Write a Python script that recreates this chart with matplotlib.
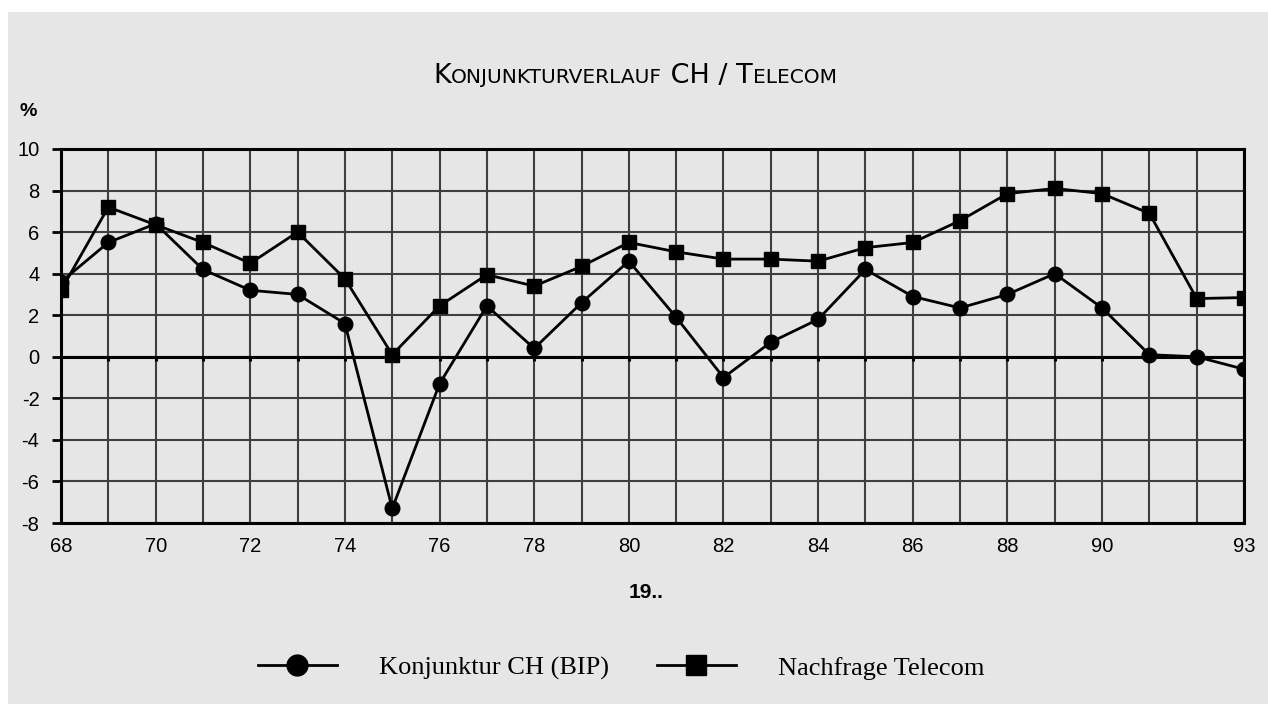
"""Konjunkturverlauf CH / Telecom, 1968-1993."""

import matplotlib

matplotlib.use("Agg")
import matplotlib.pyplot as plt
from matplotlib.lines import Line2D
from matplotlib.offsetbox import AnnotationBbox, HPacker, TextArea
from matplotlib.patches import Rectangle

# data
years = list(range(68, 94))
bip = [3.6, 5.5, 6.4, 4.2, 3.2, 3.0, 1.6, -7.3, -1.3, 2.45, 0.4, 2.6, 4.6,
       1.9, -1.0, 0.7, 1.8, 4.2, 2.9, 2.35, 3.0, 4.0, 2.35, 0.1, 0.0, -0.6]
telecom = [3.2, 7.2, 6.35, 5.5, 4.5, 6.0, 3.75, 0.1, 2.45, 3.95, 3.4, 4.35, 5.5,
           5.05, 4.7, 4.7, 4.6, 5.25, 5.5, 6.55, 7.85, 8.1, 7.85, 6.9, 2.8, 2.85]
x_label_years = [68, 70, 72, 74, 76, 78, 80, 82, 84, 86, 88, 90, 93]
y_ticks = [-8, -6, -4, -2, 0, 2, 4, 6, 8, 10]
series_names = ["Konjunktur CH (BIP)", "Nachfrage Telecom"]

BG = "#e6e6e6"
GRID = "#3f3f3f"
SANS = ["Liberation Sans", "DejaVu Sans"]

fig = plt.figure(figsize=(12.68, 7.04), dpi=100, facecolor="white")
fig.patches.append(Rectangle((8 / 1268, 0), 1 - 8 / 1268, 1 - 12 / 704,
                             transform=fig.transFigure, facecolor=BG,
                             edgecolor="none", zorder=-10))

ax = fig.add_axes([0.0481, 0.2571, 0.9330, 0.5313])
ax.set_facecolor(BG)
ax.set_xlim(68, 93)
ax.set_ylim(-8, 10)

# grid every year / every 2 %
for yr in years:
    ax.axvline(yr, color=GRID, lw=1.5, zorder=1)
for v in y_ticks:
    ax.axhline(v, color=GRID, lw=1.5, zorder=1)
ax.axhline(0, color="black", lw=2.2, zorder=2)
ax.vlines(years, -0.22, 0, color="black", lw=2.2, zorder=2)

for s in ax.spines.values():
    s.set_linewidth(2.2)
    s.set_color("black")
    s.set_zorder(3)

ax.plot(years, bip, color="black", lw=2.0, marker="o", ms=10.5, zorder=5)
ax.plot(years, telecom, color="black", lw=2.0, marker="s", ms=10.5, zorder=5)

ax.set_xticks(x_label_years)
ax.set_xticklabels([str(y) for y in x_label_years], family=SANS, fontsize=14.5)
ax.tick_params(axis="x", length=0, pad=10)
ax.set_yticks(y_ticks)
ax.set_yticklabels([str(v) for v in y_ticks], family=SANS, fontsize=14.5)
ax.tick_params(axis="y", length=6.5, width=2, pad=9, color="black")

fig.text(646 / 1268, 1 - 593 / 704, "19..", family=SANS, fontsize=15,
         fontweight="bold", ha="center", va="center")
fig.text(20 / 1268, 1 - 112 / 704, "%", family=SANS, fontsize=14,
         fontweight="bold", ha="left", va="center")

# small-caps title
big, small = 19.5, 14.5
pieces = [("K", big), ("ONJUNKTURVERLAUF", small), (" CH / T", big), ("ELECOM", small)]
areas = [TextArea(t, textprops=dict(fontsize=fs, family="DejaVu Sans", color="black"))
         for t, fs in pieces]
box = HPacker(children=areas, align="baseline", pad=0, sep=0)
fig.add_artist(AnnotationBbox(box, (635 / 1268, 1 - 76 / 704),
                              xycoords="figure fraction", frameon=False,
                              box_alignment=(0.5, 0.5), pad=0))

handles = [
    Line2D([], [], color="black", lw=2.0, marker="o", ms=15),
    Line2D([], [], color="black", lw=2.0, marker="s", ms=15),
]
fig.legend(handles, series_names, loc="center", ncol=2, frameon=False,
           bbox_to_anchor=(621 / 1268, 1 - 668 / 704),
           prop=dict(family=["Liberation Serif", "DejaVu Serif"], size=19),
           handlelength=3.0, handletextpad=1.6, columnspacing=1.8, numpoints=1)

fig.savefig("out.png", dpi=100, facecolor=fig.get_facecolor())
